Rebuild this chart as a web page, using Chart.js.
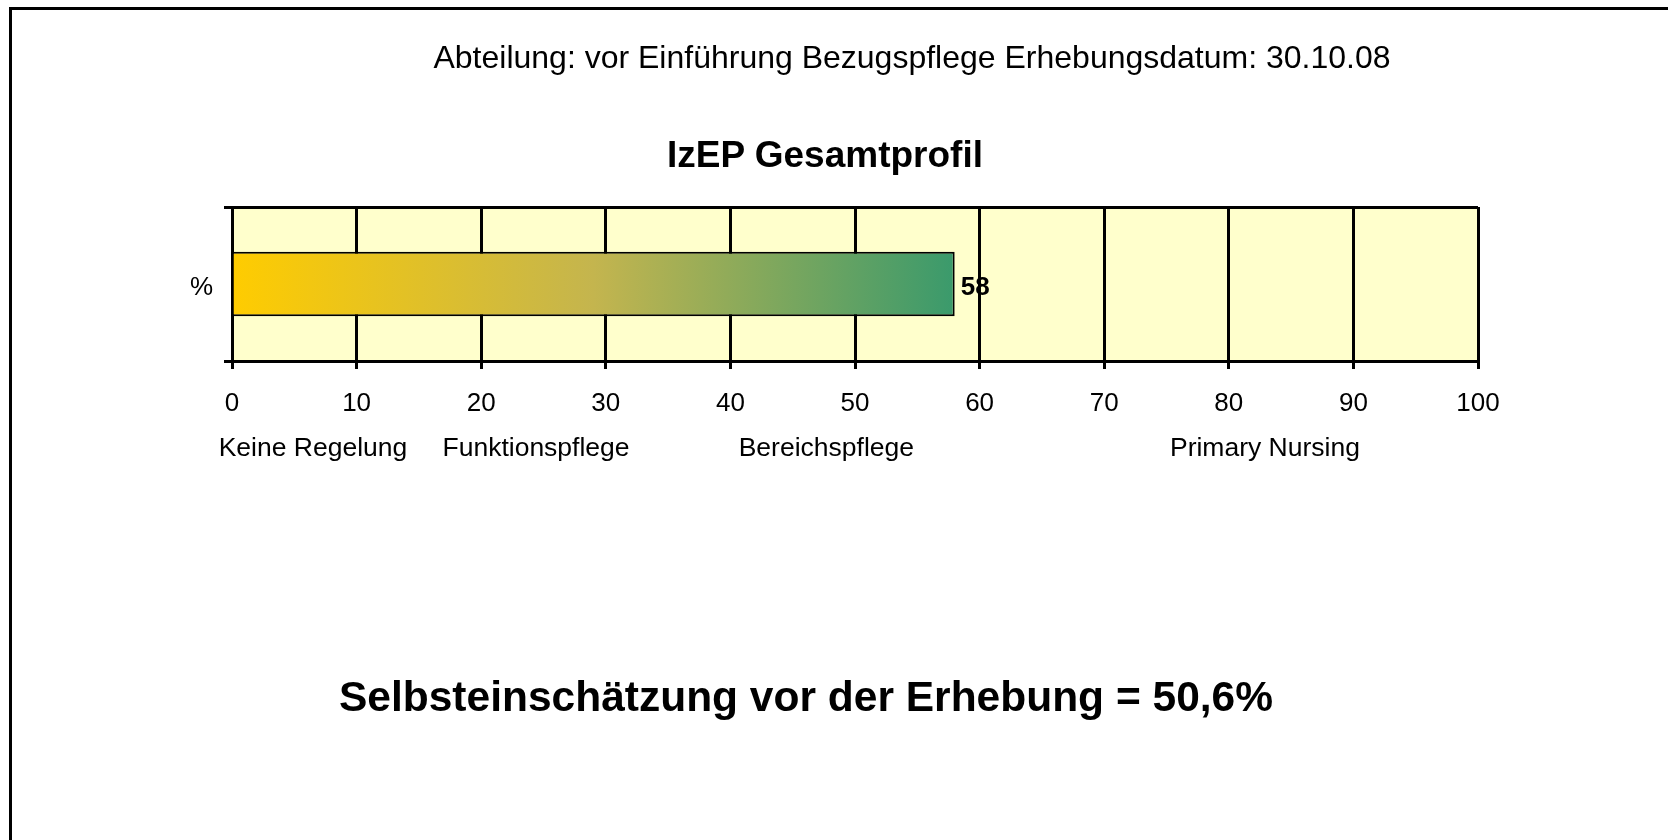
<!DOCTYPE html>
<html lang="de">
<head>
    <meta charset="UTF-8">
    <title>IzEP Gesamtprofil</title>
    <script src="https://cdn.jsdelivr.net/npm/chart.js@4.4.1/dist/chart.umd.min.js"></script>
    <style>
        html, body {
            margin: 0;
            padding: 0;
            width: 1668px;
            height: 840px;
            overflow: hidden;
            background: #fff;
            font-family: 'Liberation Sans', Arial, sans-serif;
        }

        #frame {
            position: absolute;
            left: 9px;
            top: 7px;
            width: 2000px;
            height: 2000px;
            border: 3px solid #000;
        }

        .txt {
            position: absolute;
            transform: translate(-50%, -50%);
            white-space: nowrap;
            line-height: 1;
            color: #000;
        }

        #subTitle { left: 912px; top: 57px; font-size: 32px; }
        #mainTitle { left: 825px; top: 154px; font-size: 37px; font-weight: bold; }
        #selfRating { left: 806px; top: 697px; font-size: 42.5px; font-weight: bold; }

        #chart {
            position: absolute;
            left: 0;
            top: 0;
        }
    </style>
</head>
<body>

<div id="frame"></div>
<canvas id="chart" width="1668" height="840"></canvas>
<div id="subTitle" class="txt">Abteilung: vor Einführung Bezugspflege Erhebungsdatum: 30.10.08</div>
<div id="mainTitle" class="txt">IzEP Gesamtprofil</div>
<div id="selfRating" class="txt">Selbsteinschätzung vor der Erhebung = 50,6%</div>

<script>
    const categories = ['%'];
    const scores = [58];
    const xTicks = [0, 10, 20, 30, 40, 50, 60, 70, 80, 90, 100];
    const stageNames = ['Keine Regelung', 'Funktionspflege', 'Bereichspflege', 'Primary Nursing'];
    const stageAnchors = [6.5, 24.4, 47.7, 82.9];

    const FONT = "'Liberation Sans', Arial, sans-serif";
    Chart.defaults.font.family = FONT;
    Chart.defaults.color = '#000';

    function barGradient(context) {
        const chart = context.chart;
        const area = chart.chartArea;
        if (!area) return '#FFCC00';
        const xs = chart.scales.x;
        const x0 = xs.getPixelForValue(0);
        const x1 = xs.getPixelForValue(scores[context.dataIndex] || 0);
        const g = chart.ctx.createLinearGradient(x0, 0, x1, 0);
        g.addColorStop(0, '#FFCC00');
        g.addColorStop(0.5, '#C4B54E');
        g.addColorStop(1, '#3A9A6C');
        return g;
    }

    // yellow plot background + value label (drawn before the grid, so grid lines cross it)
    const backdrop = {
        id: 'backdrop',
        beforeDraw(chart) {
            const { ctx, chartArea } = chart;
            ctx.save();
            ctx.fillStyle = '#FFFFCC';
            ctx.fillRect(chartArea.left, chartArea.top,
                chartArea.right - chartArea.left, chartArea.bottom - chartArea.top);

            const meta = chart.getDatasetMeta(0);
            ctx.font = 'bold 26px ' + FONT;
            ctx.textAlign = 'left';
            ctx.textBaseline = 'middle';
            ctx.fillStyle = '#000';
            meta.data.forEach((bar, i) => {
                ctx.fillText(String(scores[i]), bar.x + 6, bar.y + 4);
            });
            ctx.restore();
        }
    };

    const ctx = document.getElementById('chart').getContext('2d');
    const chart = new Chart(ctx, {
        type: 'bar',
        data: {
            labels: categories,
            datasets: [{
                label: 'IzEP',
                data: scores,
                backgroundColor: barGradient,
                borderColor: '#000',
                borderWidth: 2,
                categoryPercentage: 1,
                barPercentage: 0.42
            }]
        },
        options: {
            indexAxis: 'y',
            responsive: false,
            animation: false,
            events: [],
            layout: {
                padding: { left: 150, top: 207, right: 190, bottom: 369 }
            },
            plugins: {
                legend: { display: false },
                tooltip: { enabled: false }
            },
            scales: {
                x: {
                    type: 'linear',
                    position: 'bottom',
                    weight: 0,
                    min: 0,
                    max: 100,
                    afterBuildTicks: axis => { axis.ticks = xTicks.map(v => ({ value: v })); },
                    afterFit: s => { s.height = 60; },
                    grid: { color: '#000', lineWidth: 3, tickLength: 8 },
                    border: { color: '#000', width: 3 },
                    ticks: {
                        font: { size: 26 },
                        padding: 19,
                        maxRotation: 0,
                        autoSkip: false
                    }
                },
                x2: {
                    type: 'linear',
                    position: 'bottom',
                    weight: 1,
                    min: 0,
                    max: 100,
                    afterBuildTicks: axis => { axis.ticks = stageAnchors.map(v => ({ value: v })); },
                    afterFit: s => { s.height = 50; },
                    grid: { display: false, drawTicks: false },
                    border: { display: false },
                    ticks: {
                        font: { size: 26.5 },
                        padding: 12,
                        maxRotation: 0,
                        autoSkip: false,
                        callback: (value, index) => stageNames[index]
                    }
                },
                y: {
                    afterFit: s => { s.width = 82; },
                    grid: { color: '#000', lineWidth: 3, tickLength: 8 },
                    border: { color: '#000', width: 3 },
                    ticks: {
                        font: { size: 26 },
                        padding: 11,
                        labelOffset: 4
                    }
                }
            }
        },
        plugins: [backdrop]
    });
</script>

</body>
</html>
